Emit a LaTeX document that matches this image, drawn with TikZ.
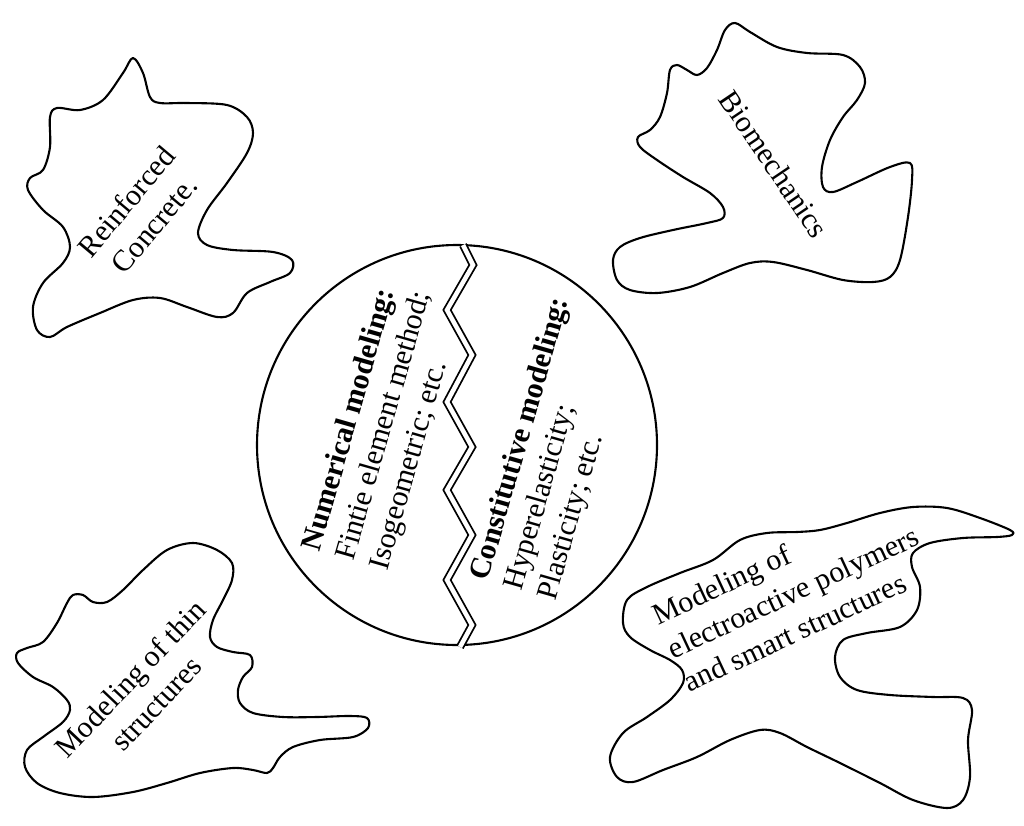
\documentclass[tikz,border=0pt]{standalone}
\usepackage{fontspec}
\setmainfont{Liberation Serif}
\begin{document}
\begin{tikzpicture}[x=1pt,y=-1pt,
  blob/.style={draw=black,line width=2.1pt,line join=round},
  lbl/.style={font=\fontsize{30}{36}\selectfont,inner sep=0pt,align=center},
  lbll/.style={font=\fontsize{30}{35}\selectfont,inner sep=0pt,align=left},
  crack/.style={draw=black,double=white,double distance=4.5pt,line width=1.8pt,line join=miter}]
\useasboundingbox[fill=white] (0,0) rectangle (1024,826);

% Reinforced Concrete blob
\draw[blob] plot[smooth cycle,tension=0.55] coordinates {
(133,58) (143,73) (150,97) (160,103) (187,103) (227,105) (247,117) (253,133) (247,153) (227,183) (207,210) (198,233) (207,245) (233,250) (273,252) (292,260) (290,273) (270,282) (247,293) (233,313) (217,317) (187,307) (160,298) (133,300) (100,313) (67,327) (50,337) (37,330) (33,307) (43,283) (63,263) (70,247) (63,227) (43,210) (28,190) (30,178) (43,170) (50,147) (50,117) (57,108) (80,110) (103,100) (123,73)};
\node[lbl,rotate=50] (rc) at (140,213) {Reinforced\\Concrete.};

% Biomechanics blob
\draw[blob] plot[smooth cycle,tension=0.55] coordinates {
(735,23) (750,32) (777,47) (807,53) (843,55) (860,67) (865,83) (857,100) (843,117) (830,140) (822,167) (823,187) (833,192) (857,182) (890,167) (910,163) (912,180) (908,217) (900,260) (890,277) (873,282) (843,280) (807,270) (773,262) (750,263) (723,273) (690,287) (657,293) (630,290) (617,280) (613,260) (620,247) (640,238) (673,230) (707,223) (723,218) (723,207) (710,193) (683,177) (657,160) (640,147) (638,137) (650,130) (660,117) (667,93) (670,70) (677,65) (687,70) (697,75) (707,68) (717,50) (725,30)};
\node[lbl,rotate=-56] (bio) at (774,164) {Biomechanics};

% Thin structures blob
\draw[blob] plot[smooth cycle,tension=0.55] coordinates {
(193,543) (217,550) (232,563) (232,580) (223,600) (213,620) (210,637) (217,647) (233,652) (250,655) (252,667) (243,677) (238,690) (240,703) (253,713) (283,717) (317,717) (350,716) (367,718) (368,728) (353,737) (320,740) (293,747) (280,757) (273,768) (267,773) (253,770) (233,768) (200,773) (167,783) (133,792) (93,797) (60,793) (37,783) (25,767) (27,750) (43,737) (63,722) (70,710) (67,700) (53,687) (33,677) (18,663) (17,653) (27,648) (43,642) (57,623) (67,603) (73,595) (83,595) (93,602) (107,602) (123,590) (143,570) (167,550)};
\node[lbl,rotate=46.5] (thin) at (143,691) {Modeling of thin\\structures};

% Electroactive blob
\draw[blob] plot[smooth cycle,tension=0.55] coordinates {
(627,600) (647,587) (680,573) (713,560) (740,540) (767,533) (797,532) (820,530) (847,523) (880,513) (913,507) (947,508) (980,518) (1010,530) (1012,535) (997,537) (963,538) (930,543) (913,553) (912,567) (920,587) (917,610) (900,627) (867,633) (843,640) (835,657) (840,677) (857,690) (890,695) (933,697) (963,698) (972,710) (968,740) (970,777) (963,800) (947,808) (913,800) (880,783) (840,763) (807,747) (780,733) (760,730) (730,740) (697,757) (663,770) (633,782) (617,777) (610,757) (623,733) (647,717) (670,700) (683,683) (682,670) (670,660) (650,650) (630,637) (623,623)};
\node[lbll,rotate=25,font=\fontsize{30}{37}\selectfont] (eap) at (793,592) {Modeling of\\electroactive polymers\\and smart structures};

% Central circle
\node[draw=black,line width=2.1pt,circle,minimum size=400pt,inner sep=0pt] (core) at (457,445) {};
\draw[crack] (463,245) -- (473,265) -- (447,310) -- (472,355) -- (447,402) -- (472,447) -- (447,490) -- (472,535) -- (447,580) -- (472,625) -- (460,647);

\node[lbll,rotate=74] (num) at (385,426) {\textbf{Numerical modeling:}\\Fintie element method;\\Isogeometric; etc.};
\node[lbll,rotate=74] (con) at (555,449) {\textbf{Constitutive modeling:}\\Hyperelasticity;\\Plasticity; etc.};
\end{tikzpicture}
\end{document}
